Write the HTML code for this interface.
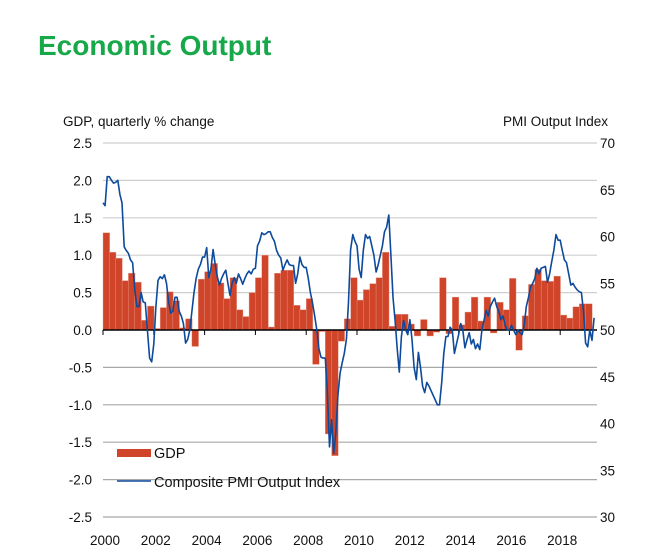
<!DOCTYPE html>
<html><head><meta charset="utf-8"><style>
body{margin:0;background:#fff;width:651px;height:551px;overflow:hidden;font-family:"Liberation Sans",sans-serif}
svg text{font-family:"Liberation Sans",sans-serif}
</style></head><body>
<svg id="chart" width="651" height="551" xmlns="http://www.w3.org/2000/svg">
<text x="38" y="55" font-size="28" font-weight="bold" fill="#17a84a">Economic Output</text>
<text x="63" y="126" font-size="13.5" fill="#111">GDP, quarterly % change</text>
<text x="503" y="126" font-size="13.5" fill="#111">PMI Output  Index</text>
<g id="grid"></g><g id="bars"></g><g id="axis"></g><g id="line"></g><g id="legend"></g>
</svg>
<script>
const leftTicks=[2.5,2.0,1.5,1.0,0.5,0.0,-0.5,-1.0,-1.5,-2.0,-2.5];
const leftTickLabels=["2.5","2.0","1.5","1.0","0.5","0.0","-0.5","-1.0","-1.5","-2.0","-2.5"];
const rightTicks=[70,65,60,55,50,45,40,35,30];
const yearLabels=[2000,2002,2004,2006,2008,2010,2012,2014,2016,2018];
const gdpStartYear=2000;
const gdp=[1.30,1.04,0.96,0.66, 0.76,0.64,0.13,0.32, 0.02,0.30,0.51,0.39, 0.03,0.15,-0.22,0.68,
0.78,0.89,0.63,0.42, 0.70,0.27,0.18,0.50, 0.70,1.00,0.04,0.76, 0.80,0.80,0.33,0.27,
0.42,-0.46,-0.02,-1.39, -1.68,-0.15,0.15,0.70, 0.40,0.54,0.62,0.70, 1.04,0.05,0.21,0.21,
0.08,-0.08,0.14,-0.08, -0.03,0.70,-0.05,0.44, 0.07,0.24,0.44,0.12, 0.44,-0.04,0.37,0.27,
0.69,-0.27,0.19,0.61, 0.81,0.66,0.65,0.72, 0.20,0.16,0.31,0.35, 0.35];
const pmi=[63.6,63.3,66.4,66.4,66,65.7,65.8,66,64.5,63.6,58.9,58.5,
58.2,57.5,57.2,54.3,52.5,52.5,54,53,52.9,50,47,46.6,
48.5,52.5,55.3,55.7,55.5,55.9,55,53,51.8,52,53.5,53.5,
52,51.5,50.7,48.6,49,50,52,54,55.5,56.5,57,57.8,
57.8,58.8,55.6,56.5,58.6,57,55.7,54.8,55.5,56,56.4,55,
53.7,55,55.6,55,56,55.5,54.9,55.5,56,56.3,56,56.5,
56.6,59,59.5,60.4,60.2,60.3,60.5,60.5,59.9,59.5,58.5,58,
57.7,56.4,57,57.5,57,56.9,56.9,55,56,57.8,57,56.7,
56.7,55.5,54,52.9,51.5,50,48,47.1,47,47,43.3,37.5,
40.4,36.8,39,43,45.4,46.5,47.5,49,53,58.6,60.2,59.5,
59,56.5,55.6,58.5,60.2,59.8,60,59,58,56.2,57,58,
59,60.5,61,62.3,58,53.5,51,48,45.5,49.3,51,50,
49.5,51.1,49,46,44.7,47.6,46,44,43.3,44.4,44,43.5,
43,42.5,42,42,44.4,47.5,49.3,49.3,50.3,50,47.5,48.5,
49.5,50.7,50,48.1,49,49.7,48.5,49,48,48.5,47.9,50,
51,52.1,51.5,52.5,53,53.4,52.5,52,51.1,51.5,50.5,50,
50,50.5,50,49.5,50,49.7,49.5,50.5,52.5,53.5,54.6,55,
55.5,56.6,56,56.6,56.7,56.8,55.1,56,57.3,58.5,60.2,59.6,
59.6,58.5,57.5,57.2,56,54.8,55,54.6,54.3,54.1,54,52,
48.6,48.2,50,48.9,51.3];

const NS="http://www.w3.org/2000/svg";
const X0=103,X1=597,YT=143,YB=517,YEARPX=25.4;
const yL=v=>330-v*74.8;
const yR=v=>YT+(70-v)*(YB-YT)/40;
const xT=t=>X0+(t-2000)*YEARPX;
function mk(tag,attrs,parent,txt){const e=document.createElementNS(NS,tag);for(const k in attrs)e.setAttribute(k,attrs[k]);if(txt!==undefined)e.textContent=txt;parent.appendChild(e);return e;}
const grid=document.getElementById('grid'),bars=document.getElementById('bars'),axis=document.getElementById('axis'),line=document.getElementById('line'),leg=document.getElementById('legend');
leftTicks.forEach((v,i)=>{
  const y=yL(v);
  if(v!==0){const g=mk('line',{x1:X0,x2:X1,y1:y,y2:y,stroke:v>0?'#cfcfcf':'#a8a8a8','stroke-width':1.2},grid);
  
  }
  const t=mk('text',{x:92,y:y+5,'font-size':13.5,'text-anchor':'end',fill:'#111'},axis,leftTickLabels[i]);
  
  
});
rightTicks.forEach(v=>{
  const t=mk('text',{x:600,y:yR(v)+5,'font-size':13.5,fill:'#111'},axis,String(v));
  
  
});
const qw=YEARPX/4;
gdp.forEach((v,i)=>{
  const x=xT(gdpStartYear+i/4);
  const y=v>=0?yL(v):yL(0);
  const b=mk('rect',{x:x,y:y,width:qw+0.3,height:Math.max(0.5,Math.abs(yL(v)-yL(0))),fill:'#d0452a',stroke:'#e8a090','stroke-width':0.4},bars);
  
  
});
const z=mk('line',{x1:X0,x2:X1,y1:yL(0),y2:yL(0),stroke:'#000','stroke-width':1.5},axis);


yearLabels.forEach(yr=>{
  const x=xT(yr);
  const tk=mk('line',{x1:x,x2:x,y1:yL(0),y2:yL(0)+5,stroke:'#000','stroke-width':1},axis);
  
  
  const t=mk('text',{x:x+2,y:545,'font-size':13.5,'text-anchor':'middle',fill:'#111'},axis,String(yr));
  
  
});
const pts=pmi.map((v,i)=>xT(2000+i/12).toFixed(1)+','+yR(v).toFixed(1)).join(' ');
const pl=mk('polyline',{points:pts,fill:'none',stroke:'#0d4a9c','stroke-width':1.6,'stroke-linejoin':'round'},line);


const ls=mk('rect',{x:117,y:449,width:34,height:8,fill:'#d0452a'},leg);


const lt=mk('text',{x:154,y:458,'font-size':14.5,fill:'#111'},leg,'GDP');


const ll=mk('line',{x1:117,x2:151,y1:481,y2:481,stroke:'#0d4a9c','stroke-width':1.5},leg);


const lt2=mk('text',{x:154,y:487,'font-size':14.5,fill:'#111'},leg,'Composite PMI Output Index');


</script>
</body></html>
